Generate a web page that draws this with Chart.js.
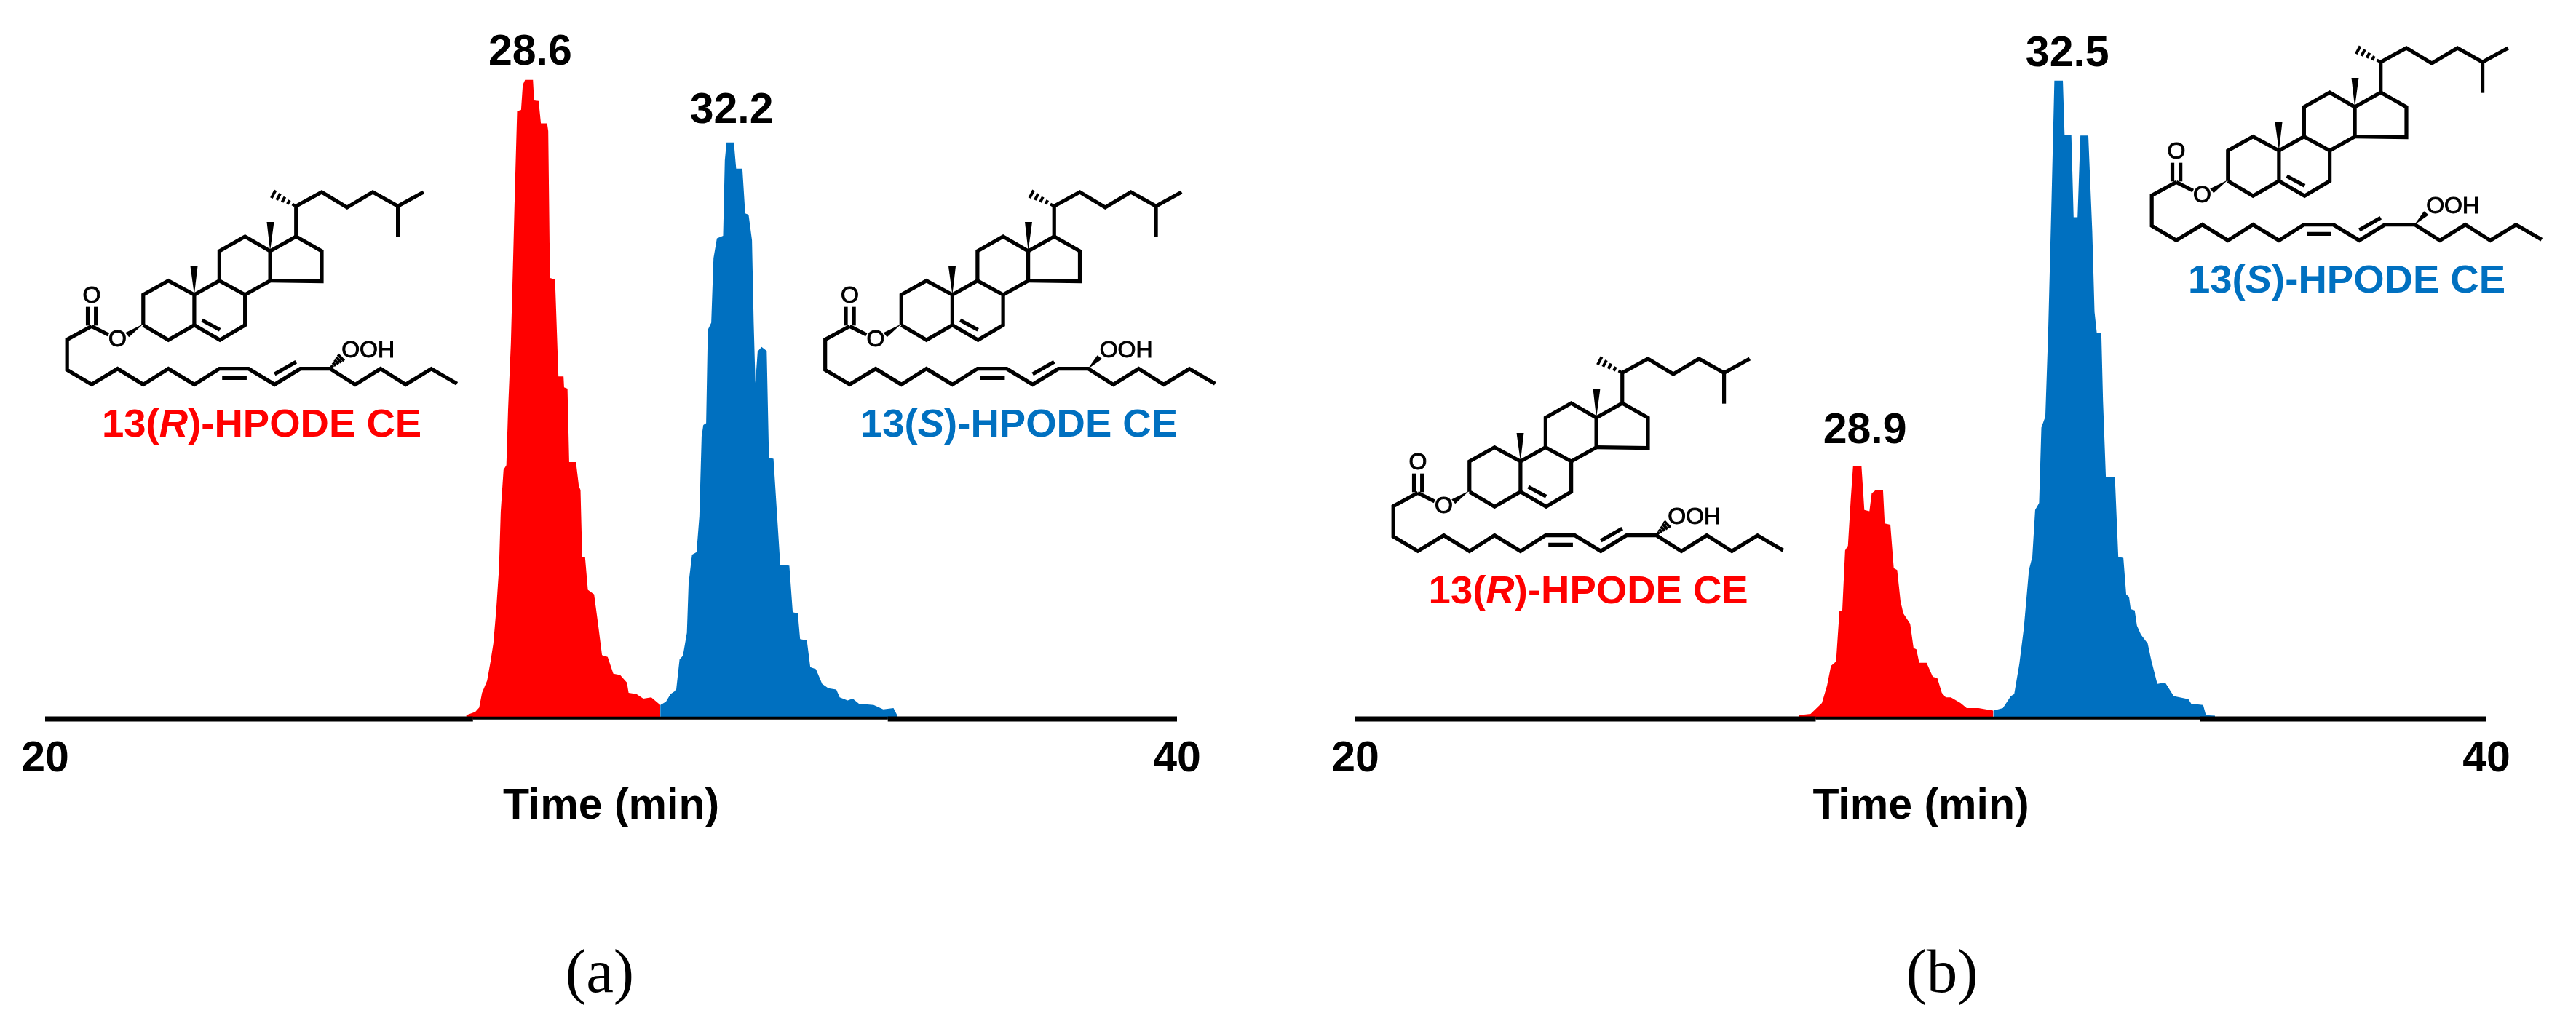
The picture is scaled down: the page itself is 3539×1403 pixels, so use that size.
<!DOCTYPE html>
<html>
<head>
<meta charset="utf-8">
<title>HPODE CE chromatograms</title>
<script src="https://cdn.jsdelivr.net/npm/chart.js@4/dist/chart.umd.min.js"></script>
<style>
  html, body { margin: 0; padding: 0; background: #fff; }
  body { position: relative; width: 3539px; height: 1403px; overflow: hidden; }
  canvas { position: absolute; top: 0; }
  #chartA { left: 0; }
  #chartB { left: 1770px; }
</style>
</head>
<body>
<canvas id="chartA" width="1770" height="1403"></canvas>
<canvas id="chartB" width="1769" height="1403"></canvas>
<script>
const RED = "#ff0000";
const BLUE = "#0070c0";
const tickValues = [20, 40];
const axisTitle = "Time (min)";

// panel (a), time in min, intensity in % of the tallest peak
const redTimeA = [27.44,27.60,27.67,27.72,27.81,27.87,27.92,27.97,28.02,28.05,28.10,28.15,28.18,28.23,28.27,28.30,28.34,28.41,28.44,28.48,28.62,28.64,28.72,28.76,28.87,28.89,28.92,29.01,29.07,29.16,29.17,29.23,29.26,29.38,29.43,29.46,29.49,29.54,29.59,29.70,29.77,29.84,29.94,30.04,30.16,30.28,30.31,30.45,30.57,30.71,30.87];
const redValueA = [0.6,1.1,1.8,4.1,6.0,9.0,11.8,17.0,23.6,32.4,39.0,39.7,48.4,58.9,72.1,82.6,95.1,95.3,99.2,100,100,96.8,96.7,93.2,93.2,92.0,69.0,68.8,53.6,53.6,51.9,51.7,40.2,40.2,36.5,35.8,25.4,25.4,20.2,19.5,14.9,10.0,9.7,7.1,6.9,5.7,4.1,3.9,3.2,3.4,2.2];
const blueTimeA = [30.87,30.97,31.05,31.15,31.21,31.27,31.34,31.37,31.43,31.51,31.56,31.60,31.63,31.68,31.71,31.77,31.81,31.87,31.98,32.01,32.04,32.17,32.21,32.32,32.37,32.43,32.49,32.52,32.55,32.59,32.66,32.75,32.79,32.87,32.99,33.15,33.21,33.30,33.34,33.46,33.52,33.62,33.73,33.84,33.98,34.04,34.18,34.27,34.38,34.64,34.81,34.99,35.06];
const blueValueA = [2.2,2.7,3.9,4.5,9.3,9.9,13.5,21.2,25.7,26.1,31.7,44.2,46.0,46.3,60.9,62.0,72.1,75.2,75.6,87.4,90.2,90.2,86.1,86.1,79.1,78.9,74.9,62.0,52.6,57.5,58.2,57.6,40.9,40.7,24.1,24.0,16.7,16.5,12.5,12.3,8.1,7.8,5.5,4.8,4.6,3.4,2.9,3.2,2.4,2.2,1.5,1.7,0.5];

// panel (b)
const redTimeB = [27.85,28.05,28.25,28.34,28.41,28.50,28.56,28.61,28.66,28.71,28.76,28.80,28.95,29.00,29.09,29.13,29.20,29.33,29.36,29.46,29.52,29.58,29.64,29.69,29.81,29.87,29.92,29.97,30.10,30.21,30.29,30.37,30.44,30.53,30.70,30.81,31.02,31.28];
const redValueB = [0.6,0.8,2.5,5.2,8.3,9.0,16.9,17.0,26.4,27.1,34.4,39.5,39.5,32.7,32.5,35.3,35.8,35.8,30.6,30.4,23.6,23.3,18.4,16.5,14.9,11.1,10.9,8.8,8.8,6.6,6.4,4.1,3.4,3.4,2.5,1.7,1.7,1.3];
const blueTimeB = [31.28,31.45,31.59,31.65,31.74,31.82,31.91,31.97,32.02,32.09,32.13,32.20,32.25,32.31,32.36,32.51,32.54,32.66,32.70,32.77,32.82,32.96,33.03,33.07,33.11,33.19,33.22,33.27,33.43,33.49,33.58,33.63,33.68,33.71,33.78,33.82,33.89,34.01,34.07,34.18,34.32,34.47,34.73,34.78,34.99,35.04,35.20];
const blueValueB = [1.3,1.7,3.6,3.9,8.6,14.2,23.3,25.4,32.7,33.8,45.6,47.3,60.3,81.2,99.9,99.9,91.4,91.4,78.5,78.5,91.3,91.3,76.3,63.7,60.4,60.4,49.8,37.9,37.9,25.4,25.2,19.5,19.1,17.2,17.0,14.6,13.2,11.8,9.3,5.5,5.7,3.6,3.1,2.4,2.2,0.6,0.5];

// retention time labels over the peaks
const peakLabelsA = ["28.6", "32.2"];
const peakLabelTimeA = [28.57, 32.13];
const peakLabelValueA = [102.4, 93.2];
const peakLabelsB = ["28.9", "32.5"];
const peakLabelTimeB = [29.01, 32.59];
const peakLabelValueB = [43.2, 102.1];

// where the black baseline gets thinner under the peaks
const thinBaselineA = [27.56, 34.89];
const thinBaselineB = [28.14, 34.93];

// cholesteryl ester drawing, units are the same in every copy
const BX = 1 / 2.61, BY = 1 / 3, ORIGIN_X = 60, ORIGIN_Y = 240;
const bondPaths = [
  [[172,625],[84,680],[84,805],[172,865],[265,800],[357,865],[447,800],[540,865],[630,800],[735,800],[828,865],[920,800],[1027,800],[1117,865],[1208,800],[1298,865],[1390,800],[1482,862]],
  [[640,838],[728,838]],
  [[828,822],[905,772]],
  [[158,545],[158,622]],
  [[187,545],[187,622]],
  [[172,625],[232,660]],
  [[357,620],[357,495],[447,437],[540,495],[540,620],[447,682],[357,620]],
  [[540,620],[632,682],[722,620],[722,495],[630,437],[540,495]],
  [[568,600],[632,640]],
  [[630,437],[630,315],[722,255],[812,315],[812,437],[722,495]],
  [[812,315],[905,255],[997,315],[997,440],[812,437]],
  [[905,255],[905,130],[997,72],[1088,135],[1180,72],[1270,130],[1362,72]],
  [[1270,130],[1270,257]]
];
const wedges = [
  [[357,616],[293,652],[306,670]],
  [[540,495],[526,378],[552,378]],
  [[812,315],[800,195],[826,195]]
];

function line(times, values) {
  return times.map((t, i) => ({ x: t, y: values[i] }));
}

function drawHash(ctx, x1, y1, x2, y2, halfWidth, place) {
  const ax = ORIGIN_X + place.dx + x1 * BX, ay = ORIGIN_Y + place.dy + y1 * BY;
  const bx = ORIGIN_X + place.dx + x2 * BX, by = ORIGIN_Y + place.dy + y2 * BY;
  const len = Math.hypot(bx - ax, by - ay);
  const nx = -(by - ay) / len, ny = (bx - ax) / len;
  ctx.lineWidth = 4;
  for (let f = 0.1; f < 1.01; f += 0.2) {
    const px = ax + (bx - ax) * f, py = ay + (by - ay) * f;
    const w = 1.5 + halfWidth * f;
    ctx.beginPath();
    ctx.moveTo(px - nx * w, py - ny * w);
    ctx.lineTo(px + nx * w, py + ny * w);
    ctx.stroke();
  }
}

function drawStructure(ctx, place) {
  const px = p => ORIGIN_X + place.dx + p[0] * BX;
  const py = p => ORIGIN_Y + place.dy + p[1] * BY;
  ctx.save();
  ctx.strokeStyle = "#000";
  ctx.fillStyle = "#000";
  ctx.lineWidth = 5.2;
  ctx.lineJoin = "miter";
  bondPaths.forEach(path => {
    ctx.beginPath();
    path.forEach((p, i) => i ? ctx.lineTo(px(p), py(p)) : ctx.moveTo(px(p), py(p)));
    ctx.stroke();
  });
  wedges.forEach(w => {
    ctx.beginPath();
    w.forEach((p, i) => i ? ctx.lineTo(px(p), py(p)) : ctx.moveTo(px(p), py(p)));
    ctx.closePath();
    ctx.fill();
  });
  drawHash(ctx, 905, 130, 815, 75, 5, place);
  if (place.hashed) {
    drawHash(ctx, 1030, 795, 1070, 750, 5, place);
  } else {
    ctx.beginPath();
    ctx.moveTo(px([1025,802]), py([1025,802]));
    ctx.lineTo(px([1060,745]), py([1060,745]));
    ctx.lineTo(px([1077,760]), py([1077,760]));
    ctx.closePath();
    ctx.fill();
  }
  ctx.font = "32px 'Liberation Sans'";
  ctx.textBaseline = "alphabetic";
  ctx.textAlign = "center";
  ctx.lineWidth = 1;
  ctx.fillText("O", px([172,0]), py([0,528]));
  ctx.strokeText("O", px([172,0]), py([0,528]));
  ctx.fillText("O", px([265,0]), py([0,708]));
  ctx.strokeText("O", px([265,0]), py([0,708]));
  ctx.textAlign = "left";
  ctx.fillText("OOH", px([1068,0]), py([0,752]));
  ctx.strokeText("OOH", px([1068,0]), py([0,752]));

  // name under the structure, only the R or S is italic
  let x = place.nameX;
  const parts = [["13(", false], [place.isomer, true], [")-HPODE CE", false]];
  ctx.fillStyle = place.color;
  parts.forEach(part => {
    ctx.font = (part[1] ? "italic " : "") + "bold 54.5px 'Liberation Sans'";
    ctx.fillText(part[0], x, place.nameY);
    x += ctx.measureText(part[0]).width;
  });
  ctx.restore();
}

const annotations = {
  id: "annotations",
  afterDatasetsDraw(chart, args, opts) {
    const ctx = chart.ctx;
    const xs = chart.scales.x, ys = chart.scales.y;
    ctx.save();
    ctx.fillStyle = "#000";
    ctx.textAlign = "center";
    ctx.textBaseline = "alphabetic";
    ctx.font = "bold 59px 'Liberation Sans'";
    opts.labels.forEach((text, i) => {
      ctx.fillText(text, xs.getPixelForValue(opts.times[i]), ys.getPixelForValue(opts.values[i]));
    });
    ctx.font = "85px 'Liberation Serif'";
    ctx.fillText(opts.caption, opts.captionX, 1363);
    ctx.restore();
    opts.structures.forEach(s => drawStructure(ctx, s));
  }
};

function makeChart(id, red, blue, thin, pad, labels) {
  return new Chart(document.getElementById(id), {
    type: "line",
    data: {
      datasets: [
        { label: "baseline", data: [{ x: 20, y: 0 }, { x: thin[0], y: 0 }], borderColor: "#000", borderWidth: 7, order: 1 },
        { label: "baseline", data: [{ x: thin[1], y: 0 }, { x: 40, y: 0 }], borderColor: "#000", borderWidth: 7, order: 1 },
        { label: "baseline", data: [{ x: thin[0], y: 0.15 }, { x: thin[1], y: 0.15 }], borderColor: "#000", borderWidth: 4, order: 1 },
        { label: "13(R)-HPODE CE", data: red, borderWidth: 0, backgroundColor: RED, fill: "origin", order: 3 },
        { label: "13(S)-HPODE CE", data: blue, borderWidth: 0, backgroundColor: BLUE, fill: "origin", order: 2 }
      ]
    },
    options: {
      responsive: false,
      animation: false,
      clip: false,
      elements: { point: { radius: 0 }, line: { tension: 0, borderCapStyle: "butt" } },
      layout: { autoPadding: false, padding: { left: pad[0], right: pad[1], top: 0, bottom: 0 } },
      plugins: {
        legend: { display: false },
        tooltip: { enabled: false },
        annotations: labels
      },
      scales: {
        x: {
          type: "linear",
          min: tickValues[0],
          max: tickValues[1],
          afterFit(scale) { scale.height = 415; },
          border: { display: false },
          grid: { display: false, drawTicks: false },
          ticks: {
            stepSize: 20,
            maxRotation: 0,
            autoSkip: false,
            padding: 20,
            color: "#000",
            font: { family: "'Liberation Sans'", size: 59, weight: "bold" }
          },
          title: {
            display: true,
            text: axisTitle,
            color: "#000",
            font: { family: "'Liberation Sans'", size: 59, weight: "bold" },
            padding: { top: 0, bottom: 259 }
          }
        },
        y: { type: "linear", display: false, min: 0, max: 112.5 }
      }
    },
    plugins: [annotations]
  });
}

makeChart("chartA", line(redTimeA, redValueA), line(blueTimeA, blueValueA), thinBaselineA, [62, 153], {
  labels: peakLabelsA, times: peakLabelTimeA, values: peakLabelValueA, caption: "(a)", captionX: 824,
  structures: [
    { dx: 0, dy: 0, hashed: true, isomer: "R", color: RED, nameX: 140, nameY: 600 },
    { dx: 1041.5, dy: 0, hashed: false, isomer: "S", color: BLUE, nameX: 1182, nameY: 600 }
  ]
});

makeChart("chartB", line(redTimeB, redValueB), line(blueTimeB, blueValueB), thinBaselineB, [92, 123], {
  labels: peakLabelsB, times: peakLabelTimeB, values: peakLabelValueB, caption: "(b)", captionX: 898,
  structures: [
    { dx: 52, dy: 229, hashed: true, isomer: "R", color: RED, nameX: 192.6, nameY: 829 },
    { dx: 1094, dy: -198, hashed: false, isomer: "S", color: BLUE, nameX: 1236, nameY: 402 }
  ]
});
</script>
</body>
</html>
